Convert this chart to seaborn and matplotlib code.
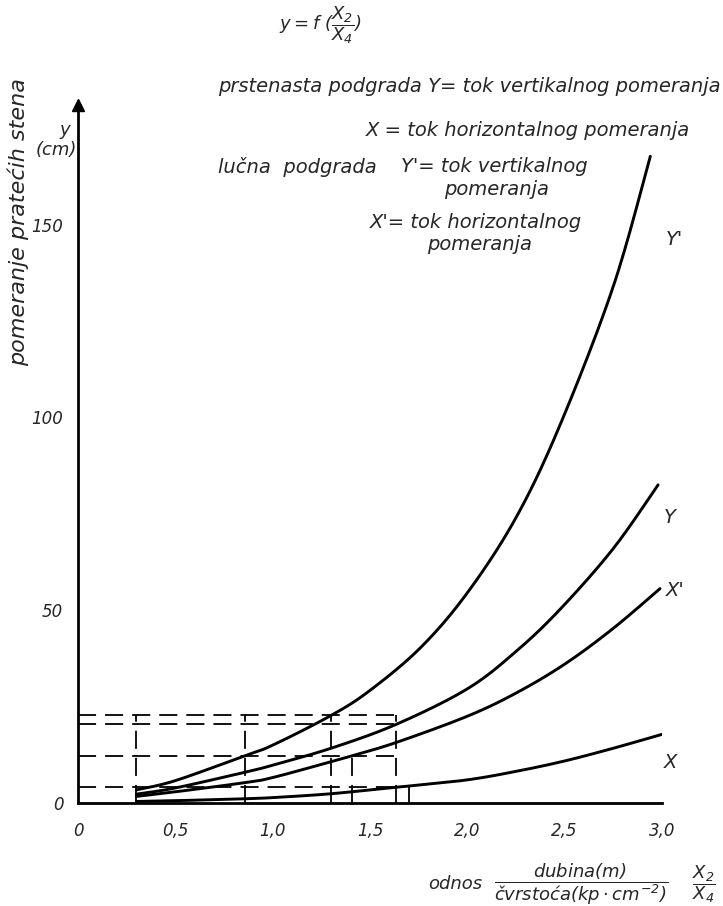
import numpy as np
import pandas as pd
import matplotlib
matplotlib.use("Agg")
import matplotlib.pyplot as plt
import seaborn as sns

# ===== データ (cm) =====
x_Yp = [0.3, 0.5, 0.86, 1.0, 1.3, 1.5, 1.76, 2.0, 2.25, 2.476, 2.75, 2.94]
y_Yp = [3.4, 5.8, 12.3, 15.0, 22.7, 29.2, 40.3, 54.5, 74.0, 98.0, 134.0, 167.7]

x_Y = [0.3, 0.5, 0.86, 1.0, 1.3, 1.635, 2.0, 2.25, 2.476, 2.75, 2.98]
y_Y = [2.3, 3.9, 8.0, 9.8, 14.2, 20.4, 29.6, 39.3, 50.2, 66.0, 82.5]

x_Xp = [0.3, 0.5, 0.86, 1.0, 1.3, 1.405, 1.635, 2.0, 2.25, 2.5, 2.75, 2.99]
y_Xp = [1.7, 2.9, 5.3, 6.6, 10.7, 12.2, 15.7, 22.5, 28.5, 36.0, 45.3, 55.6]

x_X = [0.3, 0.5, 0.86, 1.0, 1.3, 1.635, 1.7, 2.0, 2.25, 2.5, 2.75, 3.0]
y_X = [0.4, 0.6, 1.1, 1.4, 2.4, 4.1, 4.4, 6.0, 8.2, 10.9, 14.2, 17.8]

# 補助線 (破線)
h_levels = [22.7, 20.4, 12.2, 4.1]
h_xmax = 1.635
v_pos = [0.3, 0.86, 1.3, 1.635]
v_top = 22.7
v_short_pos = 1.405
v_short_top = 12.2
solid_pos = 1.7
solid_top = 4.4

x_ticks = [0, 0.5, 1.0, 1.5, 2.0, 2.5, 3.0]
x_ticklabels = ["0", "0,5", "1,0", "1,5", "2,0", "2,5", "3,0"]
y_ticks = [0, 50, 100, 150]

curve_names = ["Y'", "Y", "X'", "X"]


def catmull(xs, ys, n=25):
    # 読み取った点を滑らかに結ぶ (Catmull-Rom)
    p = np.column_stack([xs, ys]).astype(float)
    out = []
    for i in range(len(p) - 1):
        p0 = p[max(i - 1, 0)]
        p1 = p[i]
        p2 = p[i + 1]
        p3 = p[min(i + 2, len(p) - 1)]
        t = np.linspace(0, 1, n, endpoint=(i == len(p) - 2))[:, None]
        seg = 0.5 * ((2 * p1) + (-p0 + p2) * t + (2 * p0 - 5 * p1 + 4 * p2 - p3) * t ** 2
                     + (-p0 + 3 * p1 - 3 * p2 + p3) * t ** 3)
        out.append(seg)
    return np.vstack(out)


frames = []
for name, xs, ys in zip(curve_names, [x_Yp, x_Y, x_Xp, x_X], [y_Yp, y_Y, y_Xp, y_X]):
    pts = catmull(xs, ys)
    frames.append(pd.DataFrame({"x": pts[:, 0], "y": pts[:, 1], "kriva": name}))
df_s = pd.concat(frames, ignore_index=True)

sns.set_style("white")
plt.rcParams["font.family"] = ["DejaVu Sans"]
plt.rcParams["font.style"] = "italic"
plt.rcParams["mathtext.fontset"] = "dejavusans"

fig = plt.figure(figsize=(7.23, 9.06), dpi=100)
ax = fig.add_axes([78 / 723, 103 / 906, 584 / 723, 698 / 906])

sns.lineplot(data=df_s, x="x", y="y", hue="kriva", palette=["black"] * 4,
             linewidth=2.1, legend=False, ax=ax, sort=False, estimator=None)

dash = dict(color="black", linewidth=1.3, linestyle=(0, (10, 5)))
for lv in h_levels:
    ax.plot([0, h_xmax], [lv, lv], **dash)
for vx in v_pos:
    ax.plot([vx, vx], [0, v_top], **dash)
ax.plot([v_short_pos, v_short_pos], [0, v_short_top], **dash)
ax.plot([solid_pos, solid_pos], [0, solid_top], color="black", linewidth=1.3)

ax.set_xlim(0, 3.0)
ax.set_ylim(0, 181)
ax.set_xticks(x_ticks)
ax.set_xticklabels(x_ticklabels)
ax.set_xticks(v_pos + [v_short_pos], minor=True)
ax.set_yticks(y_ticks)
ax.tick_params(axis="x", which="major", direction="inout", length=10, width=1.5,
               labelsize=12, pad=9)
ax.tick_params(axis="x", which="minor", direction="inout", length=8, width=1.3)
ax.tick_params(axis="y", direction="out", length=7, width=1.5, labelsize=12)
for lab in ax.get_xticklabels() + ax.get_yticklabels():
    lab.set_fontstyle("italic")
for s in ["top", "right"]:
    ax.spines[s].set_visible(False)
for s in ["left", "bottom"]:
    ax.spines[s].set_linewidth(2.0)
    ax.spines[s].set_color("black")
ax.set_xlabel("")
ax.set_ylabel("")
ax.plot(0, 1, marker="^", color="black", markersize=8, transform=ax.transAxes, clip_on=False)

# 曲線ラベル
ax.text(3.02, 146, "Y'", fontsize=14, ha="left", va="center")
ax.text(3.01, 74, "Y", fontsize=14, ha="left", va="center")
ax.text(3.02, 55, "X'", fontsize=14, ha="left", va="center")
ax.text(3.01, 10.4, "X", fontsize=14, ha="left", va="center")


def ftxt(px, py, s, **kw):
    fig.text(px / 723, 1 - py / 906, s, fontstyle="italic", **kw)


ftxt(320, 25, r"$y=f\ (\dfrac{X_2}{X_4})$", fontsize=13, ha="center", va="center")
ftxt(218, 86, "prstenasta podgrada Y= tok vertikalnog pomeranja", fontsize=14, ha="left", va="center")
ftxt(366, 131, "X = tok horizontalnog pomeranja", fontsize=14, ha="left", va="center")
ftxt(218, 167, "lučna  podgrada", fontsize=14, ha="left", va="center")
ftxt(401, 167, "Y'= tok vertikalnog", fontsize=14, ha="left", va="center")
ftxt(497, 189, "pomeranja", fontsize=14, ha="center", va="center")
ftxt(582, 223, "X'= tok horizontalnog", fontsize=14, ha="right", va="center")
ftxt(480, 245, "pomeranja", fontsize=14, ha="center", va="center")
ftxt(18, 222, "pomeranje pratećih stena", fontsize=16, ha="center", va="center", rotation=90)
ftxt(65, 130, "y", fontsize=13, ha="center", va="center")
ftxt(56, 150, "(cm)", fontsize=13, ha="center", va="center")
ftxt(428, 884, "odnos", fontsize=13, ha="left", va="center")
ftxt(494, 884, r"$\dfrac{dubina(m)}{čvrstoća(kp\cdot cm^{-2})}$", fontsize=13, ha="left", va="center")
ftxt(692, 884, r"$\dfrac{X_2}{X_4}$", fontsize=13, ha="left", va="center")

fig.savefig("out.png", dpi=100)
